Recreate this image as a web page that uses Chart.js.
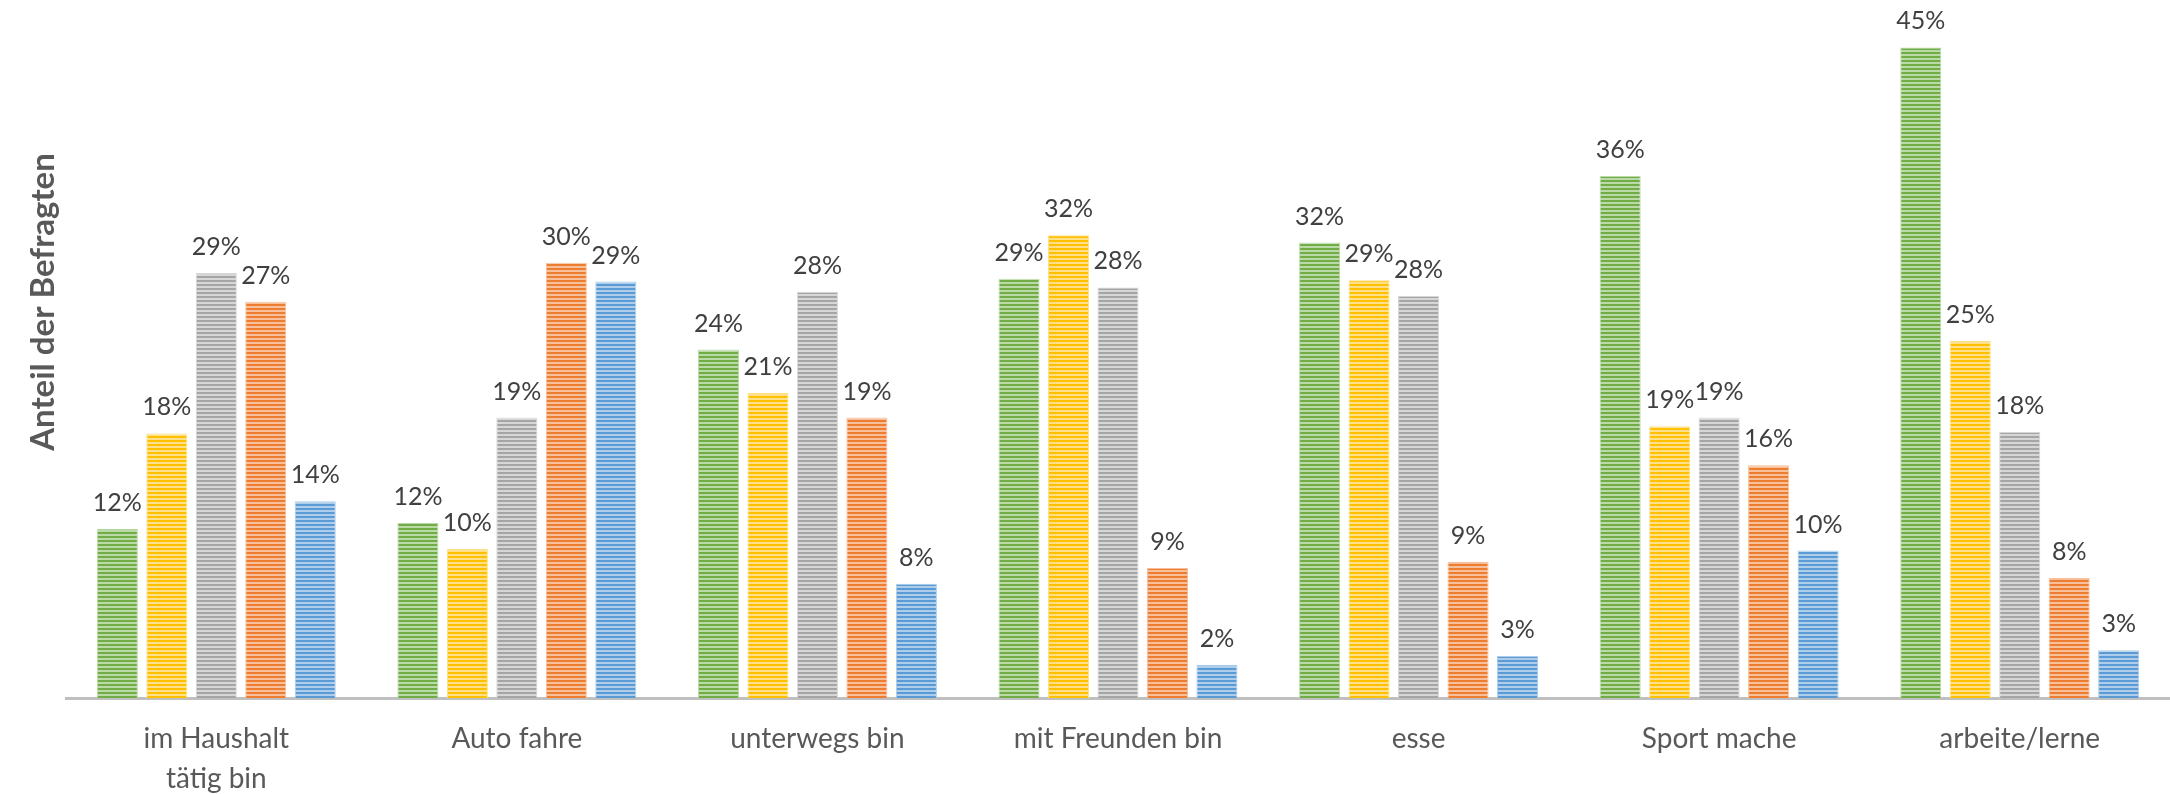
<!DOCTYPE html>
<html>
<head>
<meta charset="utf-8">
<script src="https://cdn.jsdelivr.net/npm/chart.js@4"></script>
<style>
  html, body { margin: 0; padding: 0; background: #fff; }
  #wrap { width: 2170px; height: 794px; }
</style>
</head>
<body>
<div id="wrap"><canvas id="barChart" width="2170" height="794"></canvas></div>
<script>
const categories = [
  ["im Haushalt", "tätig bin"],
  "Auto fahre",
  "unterwegs bin",
  "mit Freunden bin",
  "esse",
  "Sport mache",
  "arbeite/lerne"
];

// five answer groups, no legend in the original
const seriesGreen  = [11.7, 12.1, 24.1, 29.0, 31.5, 36.1, 45.0];
const seriesYellow = [18.3, 10.3, 21.1, 32.0, 28.9, 18.8, 24.7];
const seriesGrey   = [29.4, 19.4, 28.1, 28.4, 27.8, 19.4, 18.4];
const seriesOrange = [27.4, 30.1, 19.4,  9.0,  9.4, 16.1,  8.3];
const seriesBlue   = [13.6, 28.8,  7.9,  2.3,  2.9, 10.2,  3.3];

const yAxisTitle = "Anteil der Befragten";

// horizontal stripes like the excel fill
function stripes(color, light) {
  const c = document.createElement("canvas");
  c.width = 4;
  c.height = 4;
  const g = c.getContext("2d");
  g.fillStyle = light;
  g.fillRect(0, 0, 4, 4);
  g.fillStyle = color;
  g.fillRect(0, 0, 4, 2);
  return g.createPattern(c, "repeat");
}

function makeSet(values, color, light) {
  return {
    data: values,
    backgroundColor: stripes(color, light),
    borderColor: light,
    borderWidth: 1,
    borderSkipped: "bottom",
    categoryPercentage: 0.823,
    barPercentage: 0.83
  };
}

const valueLabels = {
  id: "valueLabels",
  afterDatasetsDraw(chart) {
    const ctx = chart.ctx;
    ctx.save();
    ctx.font = "25px Lato";
    ctx.fillStyle = "#404040";
    ctx.textAlign = "center";
    ctx.textBaseline = "alphabetic";
    chart.data.datasets.forEach((ds, i) => {
      chart.getDatasetMeta(i).data.forEach((bar, j) => {
        ctx.fillText(Math.round(ds.data[j]) + "%", bar.x, bar.y - 18);
      });
    });
    ctx.restore();
  }
};

// excel puts the axis title a bit above the middle of the plot
const axisTitle = {
  id: "axisTitle",
  afterDraw(chart) {
    const ctx = chart.ctx;
    ctx.save();
    ctx.translate(43, 302);
    ctx.rotate(-Math.PI / 2);
    ctx.font = "bold 33px Lato";
    ctx.fillStyle = "#595959";
    ctx.textAlign = "center";
    ctx.textBaseline = "middle";
    ctx.fillText(yAxisTitle, 0, 0);
    ctx.restore();
  }
};

const ctx = document.getElementById("barChart").getContext("2d");
new Chart(ctx, {
  type: "bar",
  data: {
    labels: categories,
    datasets: [
      makeSet(seriesGreen, "#70AD47", "#BCD9A8"),
      makeSet(seriesYellow, "#FFC000", "#FFE08A"),
      makeSet(seriesGrey, "#A5A5A5", "#D6D6D6"),
      makeSet(seriesOrange, "#ED7D31", "#F7C09A"),
      makeSet(seriesBlue, "#5B9BD5", "#ADCDEA")
    ]
  },
  options: {
    responsive: false,
    animation: false,
    devicePixelRatio: 1,
    layout: { padding: { top: 4, left: 0, right: 0, bottom: 0 } },
    plugins: {
      legend: { display: false },
      tooltip: { enabled: false }
    },
    scales: {
      x: {
        grid: { display: false, drawTicks: false },
        border: { display: true, color: "#BFBFBF", width: 3 },
        ticks: {
          color: "#595959",
          font: { family: "Lato", size: 28, lineHeight: "40px" },
          padding: 21,
          maxRotation: 0,
          autoSkip: false
        },
        afterFit(scale) {
          scale.height = 96;
        }
      },
      y: {
        min: 0,
        max: 48,
        grid: { display: false, drawTicks: false },
        border: { display: false },
        ticks: { display: false },
        afterFit(scale) {
          scale.width = 66;
        }
      }
    }
  },
  plugins: [valueLabels, axisTitle]
});
</script>
</body>
</html>
